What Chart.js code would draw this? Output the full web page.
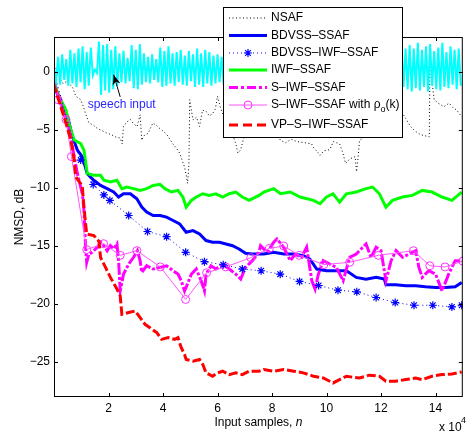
<!DOCTYPE html>
<html>
<head>
<meta charset="utf-8">
<script src="https://cdn.jsdelivr.net/npm/chart.js@4.4.0/dist/chart.umd.min.js"></script>
<style>
  body { margin: 0; background: #fff; }
</style>
</head>
<body>
<canvas id="nmsdChart" width="468" height="432"></canvas>
<script>
// x in units of 10^4 input samples, y in dB
const xTicks = [2, 4, 6, 8, 10, 12, 14];
const yTicks = [-25, -20, -15, -10, -5, 0];

const seriesNames = ["NSAF", "BDVSS–SSAF", "BDVSS–IWF–SSAF", "IWF–SSAF", "S–IWF–SSAF", "S–IWF–SSAF with ρ_o(k)", "VP–S–IWF–SSAF"];

const nsaf = [[0,0],[0.15,-0.3],[0.33,-1.0],[0.5,-0.8],[0.69,-1.4],[0.8,-2.1],[0.98,-2.4],[1.08,-3.0],[1.16,-3.6],[1.28,-4.4],[1.45,-4.6],[1.6,-4.9],[1.8,-5.1],[1.96,-5.3],[2.1,-5.4],[2.25,-5.6],[2.43,-5.7],[2.5,-6.2],[2.55,-4.7],[2.68,-4.3],[2.8,-4.1],[2.93,-4.5],[3.05,-4.7],[3.16,-3.7],[3.22,-5.9],[3.3,-5.5],[3.45,-5.3],[3.55,-4.8],[3.63,-4.4],[3.75,-4.6],[3.89,-4.9],[4.0,-5.1],[4.14,-5.4],[4.25,-5.8],[4.36,-6.2],[4.5,-6.6],[4.61,-7.0],[4.7,-7.6],[4.79,-8.2],[4.85,-8.9],[4.9,-9.6],[4.95,-8.0],[4.98,-2.4],[5.1,-4.15],[5.23,-3.9],[5.34,-4.7],[5.45,-3.3],[5.58,-3.4],[5.7,-3.8],[5.82,-3.6],[5.92,-3.2],[6.0,-2.1],[6.1,-3.0],[6.3,-4.3],[6.5,-5.0],[6.67,-6.2],[6.75,-7.0],[6.85,-6.7],[6.95,-5.8],[7.1,-5.2],[7.4,-4.6],[7.8,-4.2],[8.1,-5.0],[8.25,-5.6],[8.31,-5.9],[8.5,-6.1],[8.7,-5.8],[8.9,-6.0],[9.2,-6.1],[9.45,-6.2],[9.52,-6.5],[9.7,-7.0],[9.76,-7.2],[9.9,-6.8],[10.12,-6.7],[10.25,-6.0],[10.48,-6.2],[10.6,-7.0],[10.7,-7.9],[10.85,-7.5],[11.05,-7.3],[11.1,-8.6],[11.15,-7.6],[11.21,-5.9],[11.4,-5.6],[11.63,-5.6],[11.8,-5.0],[12.0,-4.0],[12.3,-3.2],[12.5,-3.0],[12.71,-3.3],[12.9,-4.0],[13.08,-4.7],[13.25,-5.1],[13.44,-5.4],[13.6,-5.5],[13.77,-5.6],[13.8,1.9],[13.85,-0.5],[13.95,-2.4],[14.1,-2.7],[14.3,-3.0],[14.5,-2.7],[14.65,-3.1],[14.78,-3.3],[14.97,-3.9]];

const bdvss = [[0,0],[0.07,-1.56],[0.25,-2.71],[0.5,-3.86],[0.68,-5.59],[0.86,-6.75],[1.04,-7.32],[1.22,-8.77],[1.46,-9.34],[1.71,-9.78],[1.95,-10.06],[2.19,-10.35],[2.37,-10.78],[2.55,-10.5],[2.8,-10.5],[3.04,-10.93],[3.22,-11.65],[3.4,-12.08],[3.64,-12.37],[3.89,-12.37],[4.13,-12.51],[4.37,-12.8],[4.61,-13.09],[4.85,-13.81],[5.1,-13.67],[5.34,-13.96],[5.58,-14.53],[5.82,-14.68],[6.07,-14.68],[6.31,-14.82],[6.55,-14.97],[6.79,-15.25],[7.03,-15.63],[7.28,-15.69],[7.52,-15.69],[7.7,-15.69],[8.06,-15.54],[8.43,-15.69],[8.79,-15.69],[9.15,-15.83],[9.39,-16.12],[9.64,-16.98],[10.0,-17.13],[10.36,-17.13],[10.73,-17.13],[11.09,-17.7],[11.45,-17.85],[11.82,-17.7],[12.12,-17.85],[12.18,-18.34],[12.54,-18.34],[12.91,-18.43],[13.27,-18.43],[13.63,-18.51],[14.0,-18.57],[14.36,-18.57],[14.72,-18.51],[14.96,-18.14]];

const bdvssIwf = [[0,0],[0.3,-2.6],[0.62,-5.3],[0.98,-7.6],[1.44,-9.7],[1.83,-10.6],[2.05,-11.07],[2.74,-12.37],[3.43,-13.75],[4.13,-14.19],[4.83,-15.54],[5.52,-16.35],[6.21,-16.61],[6.91,-16.98],[7.6,-17.13],[8.3,-17.42],[9.01,-18.05],[9.71,-18.4],[10.42,-18.8],[11.11,-18.94],[11.82,-19.43],[12.52,-19.87],[13.21,-20.1],[13.9,-20.1],[14.6,-20.24],[14.96,-20.1]];

const iwf = [[0,0],[0.07,-1.41],[0.25,-2.42],[0.44,-3.29],[0.56,-4.58],[0.74,-5.88],[0.98,-6.17],[1.1,-6.75],[1.22,-8.77],[1.46,-8.91],[1.71,-8.91],[1.83,-9.34],[2.07,-9.49],[2.31,-9.34],[2.49,-10.06],[2.68,-9.92],[2.92,-10.06],[3.16,-10.21],[3.4,-10.06],[3.64,-9.78],[3.89,-9.69],[4.07,-10.06],[4.31,-10.35],[4.55,-10.21],[4.73,-10.78],[4.85,-11.65],[5.04,-11.07],[5.22,-10.78],[5.46,-10.5],[5.7,-10.64],[5.94,-10.5],[6.19,-10.78],[6.43,-10.5],[6.67,-10.35],[6.91,-10.78],[7.16,-11.07],[7.52,-10.64],[7.7,-10.35],[8.06,-10.06],[8.31,-10.5],[8.67,-10.35],[9.03,-10.78],[9.52,-11.07],[9.76,-11.36],[10.0,-10.78],[10.24,-10.5],[10.48,-11.22],[10.73,-10.5],[11.09,-10.35],[11.45,-10.06],[11.69,-9.92],[11.94,-10.5],[12.18,-11.65],[12.42,-11.07],[12.79,-10.78],[13.15,-10.64],[13.51,-10.21],[13.87,-10.35],[14.24,-10.78],[14.6,-11.07],[14.96,-10.35]];

const sIwf = [[0,0],[0.07,-1.5],[0.25,-2.71],[0.44,-4.15],[0.62,-5.59],[0.74,-7.32],[0.86,-8.77],[1.04,-10.5],[1.1,-11.94],[1.16,-15.11],[1.2,-16.41],[1.28,-15.69],[1.4,-15.54],[1.59,-15.11],[1.71,-14.68],[1.83,-14.97],[1.95,-15.4],[2.07,-14.97],[2.19,-15.25],[2.31,-14.82],[2.37,-16.26],[2.43,-18.86],[2.55,-17.42],[2.74,-16.55],[2.92,-15.97],[3.06,-15.4],[3.16,-16.26],[3.22,-17.27],[3.4,-16.7],[3.64,-16.98],[3.89,-16.84],[4.13,-16.7],[4.37,-17.13],[4.55,-17.42],[4.67,-17.99],[4.79,-18.86],[4.92,-18.14],[5.04,-17.42],[5.22,-16.98],[5.4,-17.99],[5.52,-18.86],[5.58,-17.42],[5.76,-16.7],[5.94,-16.98],[6.19,-16.55],[6.43,-16.98],[6.67,-17.42],[6.85,-17.85],[7.03,-16.84],[7.28,-16.26],[7.52,-15.54],[7.58,-14.97],[7.82,-15.54],[8.06,-14.68],[8.18,-14.39],[8.43,-15.11],[8.67,-16.26],[8.85,-15.69],[9.09,-15.97],[9.27,-15.11],[9.46,-17.99],[9.58,-18.71],[9.7,-17.42],[9.88,-16.26],[10.12,-16.55],[10.36,-16.84],[10.61,-17.99],[10.85,-15.97],[11.09,-15.69],[11.27,-15.25],[11.45,-14.82],[11.63,-15.97],[11.82,-15.11],[12.0,-15.4],[12.18,-17.99],[12.37,-16.26],[12.55,-15.4],[12.79,-15.97],[13.03,-15.69],[13.27,-15.4],[13.39,-16.84],[13.51,-17.7],[13.75,-17.13],[14.0,-17.42],[14.24,-18.86],[14.48,-17.42],[14.72,-16.26],[14.96,-16.26]];

const sIwfRho = [[0,0],[0.15,-2.4],[0.44,-4.1],[0.64,-7.3],[1.2,-15.3],[1.82,-14.8],[2.43,-15.8],[3.04,-15.4],[3.9,-16.8],[4.83,-19.6],[5.6,-17.3],[6.3,-16.8],[7.22,-16.0],[7.9,-15.2],[8.43,-15.0],[9.0,-15.8],[9.9,-16.6],[10.85,-16.4],[11.9,-15.8],[13.19,-15.4],[13.79,-16.7],[14.35,-16.8],[15,-16.3]];

const vpSIwf = [[0,0],[0.07,-1.7],[0.25,-3.0],[0.44,-4.44],[0.62,-5.88],[0.74,-7.61],[0.8,-9.05],[0.98,-9.63],[1.04,-9.92],[1.1,-11.65],[1.16,-13.09],[1.2,-13.96],[1.46,-14.1],[1.65,-14.6],[1.71,-16.0],[1.89,-16.84],[2.07,-17.7],[2.31,-18.7],[2.43,-19.3],[2.49,-20.88],[2.74,-20.73],[2.98,-20.59],[3.16,-21.16],[3.34,-21.74],[3.52,-22.03],[3.77,-22.46],[3.95,-23.04],[4.19,-22.89],[4.43,-23.04],[4.55,-22.89],[4.67,-23.76],[4.79,-24.34],[4.85,-24.77],[5.1,-24.91],[5.34,-24.77],[5.46,-25.2],[5.58,-25.92],[5.82,-26.21],[6.0,-25.92],[6.19,-25.78],[6.43,-26.07],[6.67,-25.92],[6.91,-26.07],[7.16,-25.78],[7.52,-25.78],[7.7,-25.63],[8.06,-25.78],[8.43,-25.63],[8.79,-25.78],[9.15,-25.92],[9.52,-26.21],[9.88,-26.36],[10.24,-26.79],[10.48,-26.5],[10.73,-26.21],[10.97,-26.3],[11.21,-26.36],[11.57,-26.12],[11.94,-26.21],[12.18,-26.64],[12.54,-26.64],[12.91,-26.5],[13.27,-26.36],[13.51,-26.5],[13.87,-26.21],[14.24,-26.07],[14.6,-26.01],[14.96,-25.84]];

// speech input, one value every 750 samples
const speechStep = 0.075;
const speech = [
  0.4,-0.8,1.3,-1.1,1.5,-0.7,1.1,-1.2,1.9,-1.0,
  1.6,-1.3,2.0,-0.9,2.2,-1.5,1.7,-1.2,2.1,-0.3,
  0.2,-0.1,2.6,-2.0,2.3,-1.6,2.4,-1.8,1.9,-1.5,
  2.2,-1.2,1.6,-0.9,1.8,-1.0,1.2,-0.8,2.3,-1.4,
  1.9,-1.5,2.4,-1.1,1.6,-0.9,1.3,-1.0,1.5,-0.7,
  1.1,-0.9,2.1,-1.3,1.8,-1.2,2.2,-1.0,1.6,-1.2,
  1.7,-0.9,1.9,-1.1,1.4,-1.2,1.8,-0.8,1.5,-1.3,
  2.0,-1.1,1.6,-1.3,1.9,-1.0,1.7,-1.2,1.4,-1.0,
  1.5,-0.9,1.3,-1.1,1.8,-1.0,1.6,-1.2,1.4,-0.8,
  1.7,-1.1,1.2,-0.9,1.9,-1.3,1.5,-1.0,1.6,-1.2,
  1.8,-0.9,1.3,-1.1,1.6,-1.0,2.0,-1.2,1.4,-0.9,
  1.7,-1.3,1.5,-1.0,1.2,-0.8,1.8,-1.1,1.6,-1.2,
  1.4,-0.9,1.9,-1.0,1.5,-1.3,1.7,-1.1,1.3,-0.9,
  1.6,-1.2,1.8,-1.0,1.4,-1.1,1.9,-0.8,1.5,-1.2,
  1.7,-1.0,1.3,-0.9,1.6,-1.3,1.8,-1.1,1.4,-1.0,
  1.5,-1.2,2.0,-0.9,1.6,-1.1,1.3,-1.0,1.7,-1.2,
  1.5,-0.8,1.8,-1.1,1.4,-1.3,1.9,-1.0,2.2,-1.6,
  2.4,-1.3,2.0,-1.5,2.3,-1.7,2.0,-1.4,2.5,-1.6,
  1.9,-1.3,2.2,-1.7,2.4,-1.2,1.8,-1.5,2.1,-1.6,
  2.5,-1.3,1.7,-1.4,2.2,-1.1,1.9,-1.5,2.0,-1.2
];

const FONT = "'Liberation Sans', Arial, Helvetica, sans-serif";
Chart.defaults.font.family = FONT;
Chart.defaults.color = "#000";

function pts(arr) {
    return arr.map(p => ({ x: p[0], y: p[1] }));
}

// axes box, inner ticks, annotation, labels and legend (MATLAB look)
const figurePlugin = {
    id: "figurePlugin",
    afterDraw(chart) {
        const ctx = chart.ctx;
        const area = chart.chartArea;
        const xs = chart.scales.x;
        const ys = chart.scales.y;
        ctx.save();

        // box
        ctx.strokeStyle = "#000";
        ctx.lineWidth = 1;
        ctx.setLineDash([]);
        ctx.strokeRect(area.left + 0.5, area.top + 0.5, area.right - area.left - 1, area.bottom - area.top - 1);

        // inner ticks on all four sides
        const tl = 4;
        ctx.beginPath();
        xTicks.forEach(v => {
            const px = Math.round(xs.getPixelForValue(v)) + 0.5;
            ctx.moveTo(px, area.bottom); ctx.lineTo(px, area.bottom - tl);
            ctx.moveTo(px, area.top); ctx.lineTo(px, area.top + tl);
        });
        yTicks.forEach(v => {
            const py = Math.round(ys.getPixelForValue(v)) + 0.5;
            ctx.moveTo(area.left, py); ctx.lineTo(area.left + tl, py);
            ctx.moveTo(area.right, py); ctx.lineTo(area.right - tl, py);
        });
        ctx.stroke();

        // speech input annotation
        ctx.fillStyle = "#2a2aff";
        ctx.font = "12px " + FONT;
        ctx.textAlign = "left";
        ctx.textBaseline = "alphabetic";
        ctx.fillText("speech input", xs.getPixelForValue(1.235), ys.getPixelForValue(-3.11));
        const tx = xs.getPixelForValue(2.19), ty = ys.getPixelForValue(-0.26);
        const sx = xs.getPixelForValue(2.43), sy = ys.getPixelForValue(-2.16);
        const ang = Math.atan2(ty - sy, tx - sx);
        ctx.strokeStyle = "#000";
        ctx.lineWidth = 1;
        ctx.beginPath();
        ctx.moveTo(sx, sy); ctx.lineTo(tx, ty);
        ctx.stroke();
        ctx.fillStyle = "#000";
        ctx.beginPath();
        ctx.moveTo(tx, ty);
        ctx.lineTo(tx - 11 * Math.cos(ang - 0.38), ty - 11 * Math.sin(ang - 0.38));
        ctx.lineTo(tx - 7 * Math.cos(ang), ty - 7 * Math.sin(ang));
        ctx.lineTo(tx - 11 * Math.cos(ang + 0.38), ty - 11 * Math.sin(ang + 0.38));
        ctx.closePath();
        ctx.fill();

        // x axis title with italic n
        ctx.fillStyle = "#000";
        const t1 = "Input samples, ";
        ctx.font = "12px " + FONT;
        const w1 = ctx.measureText(t1).width;
        ctx.font = "italic 12px " + FONT;
        const w2 = ctx.measureText("n").width;
        const x0 = (area.left + area.right) / 2 - (w1 + w2) / 2;
        ctx.font = "12px " + FONT;
        ctx.fillText(t1, x0, 426);
        ctx.font = "italic 12px " + FONT;
        ctx.fillText("n", x0 + w1, 426);

        // x 10^4
        ctx.font = "12px " + FONT;
        ctx.fillText("x 10", 439, 431);
        ctx.font = "9px " + FONT;
        ctx.fillText("4", 461, 423);

        // legend
        const lx = 223, ly = 7, lw = 179, lh = 130;
        ctx.fillStyle = "#fff";
        ctx.fillRect(lx, ly, lw, lh);
        ctx.strokeStyle = "#000";
        ctx.lineWidth = 1;
        ctx.strokeRect(lx + 0.5, ly + 0.5, lw, lh);
        const rows = [18, 35.5, 53, 70, 87.5, 105, 125];
        const series = chart.data.datasets.slice(1);
        series.forEach((ds, i) => {
            const y = rows[i];
            ctx.save();
            ctx.strokeStyle = ds.borderColor;
            ctx.lineWidth = ds.borderWidth;
            ctx.setLineDash(ds.legendDash || ds.borderDash || []);
            ctx.beginPath();
            ctx.moveTo(229, y); ctx.lineTo(267, y);
            ctx.stroke();
            if (ds.legendMarker) {
                ctx.setLineDash([]);
                ctx.lineWidth = ds.pointBorderWidth || 1;
                ctx.strokeStyle = ds.pointBorderColor || ds.borderColor;
                ctx.fillStyle = "rgba(0,0,0,0)";
                Chart.helpers.drawPoint(ctx, { pointStyle: ds.pointStyle, radius: ds.legendMarker, rotation: 0, borderWidth: ctx.lineWidth }, 248, y);
            }
            ctx.restore();
            // label, "_x" means subscript x
            const parts = seriesNames[i].split("_");
            ctx.fillStyle = "#000";
            ctx.textBaseline = "middle";
            let x = 271;
            ctx.font = "12px " + FONT;
            ctx.fillText(parts[0], x, y);
            x += ctx.measureText(parts[0]).width;
            if (parts.length > 1) {
                const sub = parts[1].charAt(0);
                const rest = parts[1].slice(1);
                ctx.font = "9px " + FONT;
                ctx.fillText(sub, x, y + 5);
                x += ctx.measureText(sub).width;
                ctx.font = "12px " + FONT;
                ctx.fillText(rest, x, y);
            }
        });

        ctx.restore();
    }
};

new Chart(document.getElementById("nmsdChart"), {
    type: "line",
    data: {
        datasets: [
            { label: "speech input", data: speech.map((v, i) => ({ x: i * speechStep, y: v })), borderColor: "#00ffff", borderWidth: 2, pointRadius: 0, order: 0 },
            { label: seriesNames[0], data: pts(nsaf), borderColor: "#000000", borderWidth: 1, borderDash: [1, 2.5], pointRadius: 0, order: 7 },
            { label: seriesNames[1], data: pts(bdvss), borderColor: "#0000ff", borderWidth: 3, pointRadius: 0, order: 6 },
            { label: seriesNames[2], data: pts(bdvssIwf), borderColor: "#0000ff", borderWidth: 1, borderDash: [1, 3], pointStyle: "star", pointRadius: c => (c.dataIndex < 3 ? 0 : 4), legendMarker: 4, pointBorderColor: "#0000ff", pointBorderWidth: 1.2, pointBackgroundColor: "rgba(0,0,0,0)", order: 2 },
            { label: seriesNames[3], data: pts(iwf), borderColor: "#00ff00", borderWidth: 3, pointRadius: 0, order: 5 },
            { label: seriesNames[4], data: pts(sIwf), borderColor: "#ff00ff", borderWidth: 3, borderDash: [12, 2, 3, 2], legendDash: [9, 3, 3, 3], pointRadius: 0, order: 4 },
            { label: seriesNames[5], data: pts(sIwfRho), borderColor: "#ff55ff", borderWidth: 1, pointStyle: "circle", pointRadius: 4, legendMarker: 4, pointBorderColor: "#ff33ff", pointBorderWidth: 1, pointBackgroundColor: "rgba(0,0,0,0)", order: 3 },
            { label: seriesNames[6], data: pts(vpSIwf), borderColor: "#ff0000", borderWidth: 3, borderDash: [9, 3], legendDash: [9, 5], pointRadius: 0, order: 1 }
        ]
    },
    options: {
        responsive: false,
        animation: false,
        devicePixelRatio: 1,
        layout: { padding: { top: 37, right: 2, left: 0, bottom: 0 } },
        elements: { line: { tension: 0 } },
        plugins: {
            legend: { display: false },
            tooltip: { enabled: false }
        },
        scales: {
            x: {
                type: "linear",
                min: 0,
                max: 15,
                afterFit: s => { s.height = 35; },
                afterBuildTicks: s => { s.ticks = xTicks.map(v => ({ value: v })); },
                grid: { display: false, drawTicks: false },
                border: { display: false },
                ticks: { padding: 4, maxRotation: 0, autoSkip: false, color: "#000", font: { size: 12 }, callback: v => String(v) }
            },
            y: {
                type: "linear",
                min: -28,
                max: 3,
                afterFit: s => { s.width = 54; },
                afterBuildTicks: s => { s.ticks = yTicks.map(v => ({ value: v })); },
                grid: { display: false, drawTicks: false },
                border: { display: false },
                ticks: { padding: 4, autoSkip: false, color: "#000", font: { size: 12 }, callback: v => (v < 0 ? "−" + Math.abs(v) : String(v)) },
                title: { display: true, text: "NMSD, dB", color: "#000", font: { size: 12 }, padding: { top: 12, bottom: 0 } }
            }
        }
    },
    plugins: [figurePlugin]
});
</script>
</body>
</html>
